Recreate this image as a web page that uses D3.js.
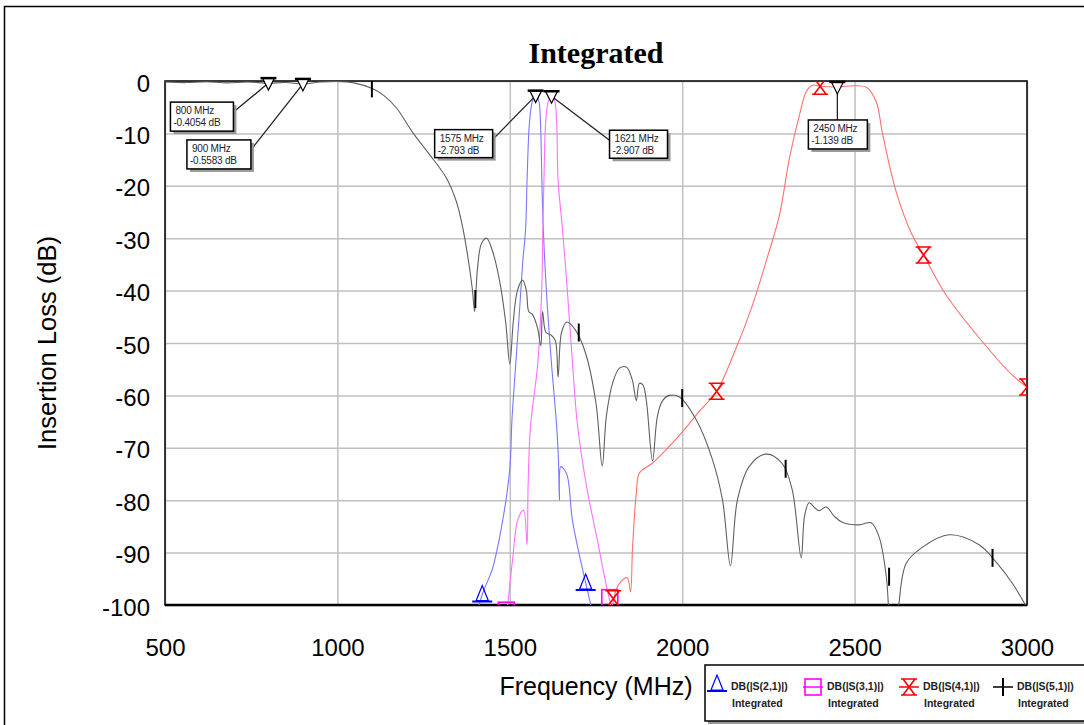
<!DOCTYPE html>
<html>
<head>
<meta charset="utf-8">
<script src="https://cdn.jsdelivr.net/npm/d3@7"></script>
<style>
body { margin: 0; background: #fff; }
text { font-family: Arial, "Liberation Sans", sans-serif; }
</style>
</head>
<body>
<svg id="chart" width="1084" height="725"></svg>
<script>
// ---- data (frequency MHz, dB) ----
var xTicks = [500, 1000, 1500, 2000, 2500, 3000];
var yTicks = [0, -10, -20, -30, -40, -50, -60, -70, -80, -90, -100];

var s21 = [[1395,-104],[1420,-98],[1450,-93],[1479,-84],[1500,-74],[1506,-65],[1514,-57],[1528,-44],
	[1537,-35],[1546,-28],[1550,-19],[1557,-8],[1565,-4],[1575,-2.793],[1584,-3.8],[1589,-8],[1593,-19],
	[1597,-28],[1607,-41],[1621,-54],[1636,-66],[1641,-72],[1644,-80],[1648,-73.6],[1665,-75],
	[1682,-84],[1720,-95.8],[1750,-104]];
var s31 = [[1488,-104],[1494,-100],[1508,-91.4],[1523,-83.8],[1540,-81.9],[1550,-88.5],[1553,-77.5],
	[1560,-66],[1581,-54],[1592,-41],[1596,-28],[1599,-19],[1604,-8],[1612,-3.8],[1621,-2.907],
	[1630,-3.8],[1636,-8],[1640,-19],[1653,-28.4],[1668,-41],[1682,-54],[1696,-65.5],[1723,-77.5],
	[1752,-87],[1781,-96.6],[1800,-102]];
var s41 = [[1794,-102],[1809,-97],[1827,-95.2],[1841,-94.8],[1850,-97.5],[1856,-89],[1867,-78.6],
	[1876,-74.8],[1914,-72.9],[2000,-67],[2050,-63],[2100,-59.2],[2150,-52],[2200,-43.5],[2250,-33],
	[2282,-25.6],[2311,-14.7],[2340,-6.5],[2360,-2],[2378,-0.8],[2400,-1.0],[2450,-1.139],[2500,-0.9],
	[2534,-1.2],[2563,-4],[2580,-9.7],[2620,-21],[2667,-29.4],[2700,-33.2],[2765,-40.8],[2861,-49],
	[2957,-56.1],[3000,-58.4]];
var s51 = [[500,-0.2],[560,-0.3],[620,-0.15],[680,-0.35],[740,-0.2],[800,-0.41],[850,-0.3],[900,-0.56],
	[950,-0.2],[1000,-0.1],[1050,-0.4],[1100,-1.4],[1135,-2.8],[1172,-5.2],[1217,-9.7],[1267,-14],
	[1316,-18.5],[1345,-23],[1362,-27.5],[1377,-33],[1391,-39.5],[1398,-44],[1406,-36],[1418,-31],
	[1433,-30],[1450,-32.5],[1470,-38],[1488,-46],[1500,-54],[1510,-46],[1522,-40],[1537,-38],
	[1548,-40],[1555,-44],[1565,-44.5],[1580,-47],[1590,-50.5],[1595,-44],[1605,-48],[1620,-48.5],
	[1632,-49.5],[1640,-56.5],[1650,-48],[1665,-46],[1690,-47.5],[1720,-52],[1750,-61.5],[1768,-73.5],
	[1780,-64],[1798,-57.7],[1818,-54.8],[1838,-54.6],[1855,-57],[1867,-61],[1876,-57.7],[1886,-58],
	[1896,-61],[1914,-72.5],[1928,-64],[1943,-61],[1963,-60],[1992,-60.3],[2041,-64.7],[2088,-72.3],
	[2117,-80],[2140,-92.5],[2160,-80],[2195,-73.5],[2244,-71.2],[2290,-73],[2319,-78],[2345,-91],
	[2355,-83],[2368,-80.5],[2385,-81.5],[2397,-82],[2418,-81.3],[2440,-83],[2464,-84.2],[2513,-84.7],
	[2548,-84.3],[2571,-87],[2592,-94.6],[2605,-106],[2615,-108],[2628,-100],[2650,-92],[2696,-89],
	[2774,-86.6],[2861,-88.5],[2913,-92],[2957,-95.8],[3000,-100.5]];

// curve symbols
var s21Marks = [[1420,-98],[1720,-95.8]];
var s31Marks = [[1490,-101],[1790,-98.6]];
var s41Marks = [[1800,-98.8],[2100,-59.2],[2400,-1.0],[2700,-33.2],[3000,-58.4]];
var s51Marks = [[1100,-1.4],[1400,-41.6],[1700,-48],[2000,-60.5],[2300,-74],[2600,-94.6],[2900,-91]];

// labelled markers
var tagValues = [[800,-0.4054],[900,-0.5583],[1575,-2.793],[1621,-2.907],[2450,-1.139]];
var tagFreqText = ['800 MHz', '900 MHz', '1575 MHz', '1621 MHz', '2450 MHz'];
var tagDbText = ['-0.4054 dB', '-0.5583 dB', '-2.793 dB', '-2.907 dB', '-1.139 dB'];

var legendNames = ['DB(|S(2,1)|)', 'DB(|S(3,1)|)', 'DB(|S(4,1)|)', 'DB(|S(5,1)|)'];

(function() {
	var svg = d3.select('#chart');
	var left = 165, right = 1027, ptop = 81, bottom = 605;

	var x = d3.scaleLinear().domain([500, 3000]).range([left, right]);
	var y = d3.scaleLinear().domain([-100, 0]).range([bottom, ptop]);

	// outer frame
	svg.append('rect')
		.attr('x', 4.5).attr('y', 6.5)
		.attr('width', 1200).attr('height', 800)
		.style('fill', 'none').style('stroke', '#000').style('stroke-width', 1.5);

	svg.append('text')
		.attr('x', (left + right) / 2).attr('y', 63)
		.attr('text-anchor', 'middle')
		.style('font-family', '"Liberation Serif", "Times New Roman", serif')
		.style('font-weight', 'bold').style('font-size', '30px')
		.text('Integrated');

	// grid + tick labels (plain hyphen for negatives, as in the original)
	var gx = svg.append('g')
		.attr('transform', 'translate(0,' + bottom + ')')
		.call(d3.axisBottom(x).tickValues(xTicks).tickSize(-(bottom - ptop)).tickPadding(34)
			.tickFormat(function(d) { return String(d); }));
	var gy = svg.append('g')
		.attr('transform', 'translate(' + left + ',0)')
		.call(d3.axisLeft(y).tickValues(yTicks).tickSize(-(right - left)).tickPadding(15)
			.tickFormat(function(d) { return String(d); }));

	[gx, gy].forEach(function(g) {
		g.select('.domain').remove();
		g.selectAll('line').style('stroke', '#c0c0c0').style('stroke-width', 1.5);
		g.selectAll('text').style('font-size', '24px').style('fill', '#000')
			.style('font-family', 'Arial, "Liberation Sans", sans-serif');
	});
	gy.selectAll('text').attr('dy', '0.42em');

	svg.append('text')
		.attr('x', (left + right) / 2).attr('y', 695)
		.attr('text-anchor', 'middle')
		.style('font-size', '25px')
		.text('Frequency (MHz)');

	svg.append('text')
		.attr('transform', 'translate(56,' + ((ptop + bottom) / 2) + ') rotate(-90)')
		.attr('text-anchor', 'middle')
		.style('font-size', '25.5px')
		.text('Insertion Loss (dB)');

	// plot border
	svg.append('rect')
		.attr('x', left).attr('y', ptop)
		.attr('width', right - left).attr('height', bottom - ptop)
		.style('fill', 'none').style('stroke', '#000').style('stroke-width', 1.5);
	svg.append('line')
		.attr('x1', left).attr('x2', right).attr('y1', bottom).attr('y2', bottom)
		.style('stroke', '#000').style('stroke-width', 2.5);

	svg.append('clipPath').attr('id', 'plotclip')
		.append('rect')
		.attr('x', left).attr('y', ptop)
		.attr('width', right - left).attr('height', bottom - ptop);

	var plot = svg.append('g').attr('clip-path', 'url(#plotclip)');

	var line = d3.line()
		.x(function(d) { return x(d[0]); })
		.y(function(d) { return y(d[1]); })
		.curve(d3.curveCatmullRom.alpha(0.5));

	var series = [
		{ data: s21, color: '#7878ff', mark: 'tri', markColor: '#0000ff', marks: s21Marks },
		{ data: s31, color: '#ff70ff', mark: 'sq', markColor: '#ff00ff', marks: s31Marks },
		{ data: s41, color: '#ff7070', mark: 'hg', markColor: '#ff0000', marks: s41Marks },
		{ data: s51, color: '#606060', mark: 'tick', markColor: '#000', marks: s51Marks }
	];

	series.forEach(function(s) {
		plot.append('path')
			.datum(s.data)
			.attr('d', line)
			.style('fill', 'none')
			.style('stroke', s.color)
			.style('stroke-width', 1.1);
	});

	function symbol(g, type, color, cx, cy) {
		if (type === 'tri') {
			g.append('path')
				.attr('d', 'M' + cx + ',' + (cy - 9) + 'L' + (cx + 6) + ',' + (cy + 6) + 'L' + (cx - 6) + ',' + (cy + 6) + 'Z')
				.style('fill', 'none').style('stroke', color).style('stroke-width', 1.2);
			g.append('line')
				.attr('x1', cx - 10).attr('x2', cx + 10).attr('y1', cy + 7).attr('y2', cy + 7)
				.style('stroke', color).style('stroke-width', 2);
		} else if (type === 'sq') {
			g.append('rect')
				.attr('x', cx - 8).attr('y', cy - 8).attr('width', 16).attr('height', 16)
				.style('fill', 'none').style('stroke', color).style('stroke-width', 1.6);
		} else if (type === 'hg') {
			g.append('path')
				.attr('d', 'M' + (cx - 8) + ',' + (cy - 8) + 'H' + (cx + 8) +
					'M' + (cx - 8) + ',' + (cy + 8) + 'H' + (cx + 8) +
					'M' + (cx - 6) + ',' + (cy - 8) + 'L' + (cx + 6) + ',' + (cy + 8) +
					'M' + (cx + 6) + ',' + (cy - 8) + 'L' + (cx - 6) + ',' + (cy + 8))
				.style('fill', 'none').style('stroke', color).style('stroke-width', 1.6);
		} else {
			g.append('line')
				.attr('x1', cx).attr('x2', cx).attr('y1', cy - 9).attr('y2', cy + 9)
				.style('stroke', color).style('stroke-width', 2);
		}
	}

	series.forEach(function(s) {
		s.marks.forEach(function(d) {
			symbol(plot, s.mark, s.markColor, x(d[0]), y(d[1]));
		});
	});

	// labelled marker boxes: offset of box from the point, and where the leader leaves the box
	var tagBoxes = [
		{ dx: -98, dy: 19, w: 63, h: 29, anchor: 'right' },
		{ dx: -116, dy: 56, w: 64, h: 29, anchor: 'right' },
		{ dx: -101, dy: 34, w: 58, h: 28, anchor: 'right' },
		{ dx: 58, dy: 34, w: 58, h: 28, anchor: 'left' },
		{ dx: -29, dy: 33, w: 59, h: 29, anchor: 'top' }
	];

	var tags = svg.append('g');
	tagValues.forEach(function(d, i) {
		var px = x(d[0]), py = y(d[1]), b = tagBoxes[i];
		var bx = px + b.dx, by = py + b.dy;
		var lx, ly;
		if (b.anchor === 'right') { lx = bx + b.w; ly = by + 10; }
		else if (b.anchor === 'left') { lx = bx; ly = by + 10; }
		else { lx = px; ly = by; }
		tags.append('line')
			.attr('x1', lx).attr('y1', ly).attr('x2', px).attr('y2', py)
			.style('stroke', '#222').style('stroke-width', 1.3);
		tags.append('rect')
			.attr('x', bx + 3).attr('y', by + 3).attr('width', b.w).attr('height', b.h)
			.style('fill', '#999');
		tags.append('rect')
			.attr('x', bx).attr('y', by).attr('width', b.w).attr('height', b.h)
			.style('fill', '#fff').style('stroke', '#000').style('stroke-width', 1.5);
		tags.append('text')
			.attr('x', bx + 5).attr('y', by + 12)
			.style('font-size', '10px').style('letter-spacing', '-0.2px').style('fill', '#223')
			.text(tagFreqText[i]);
		tags.append('text')
			.attr('x', bx + 3).attr('y', by + 24)
			.style('font-size', '10px').style('letter-spacing', '-0.2px').style('fill', '#223')
			.text(tagDbText[i]);
		// down triangle with bar on top
		tags.append('path')
			.attr('d', 'M' + (px - 6) + ',' + (py - 5) + 'L' + (px + 6) + ',' + (py - 5) + 'L' + px + ',' + (py + 7) + 'Z')
			.style('fill', '#fff').style('stroke', '#000').style('stroke-width', 1.2);
		tags.append('line')
			.attr('x1', px - 8).attr('x2', px + 8).attr('y1', py - 5).attr('y2', py - 5)
			.style('stroke', '#000').style('stroke-width', 2.5);
	});

	// legend
	var lg = svg.append('g');
	lg.append('rect').attr('x', 708).attr('y', 668).attr('width', 400).attr('height', 56).style('fill', '#999');
	lg.append('rect').attr('x', 705).attr('y', 665).attr('width', 400).attr('height', 56)
		.style('fill', '#fff').style('stroke', '#000').style('stroke-width', 1.5);

	var legendX = [717, 813, 909, 1003];
	series.forEach(function(s, i) {
		var cx = legendX[i], cy = 687;
		if (s.mark !== 'tri') {
			lg.append('line')
				.attr('x1', cx - 10).attr('x2', cx + 10).attr('y1', cy).attr('y2', cy)
				.style('stroke', s.markColor).style('stroke-width', 1.5);
			symbol(lg, s.mark, s.markColor, cx, cy);
		} else {
			symbol(lg, s.mark, s.markColor, cx, cy - 3);
		}
		lg.append('text')
			.attr('x', cx + 14).attr('y', 690)
			.style('font-size', '10.5px').style('font-weight', 'bold').style('fill', '#222')
			.text(legendNames[i]);
		lg.append('text')
			.attr('x', cx + 15).attr('y', 707)
			.style('font-size', '10.5px').style('font-weight', 'bold').style('fill', '#222')
			.text('Integrated');
	});
})();
</script>
</body>
</html>
